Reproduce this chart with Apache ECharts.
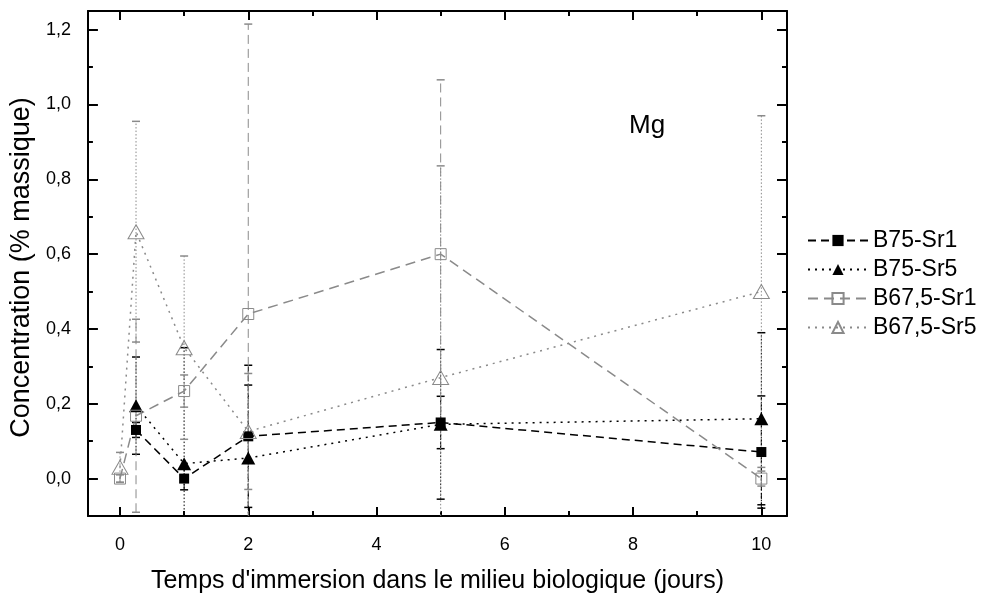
<!DOCTYPE html>
<html><head><meta charset="utf-8">
<script src="https://cdn.jsdelivr.net/npm/echarts@6/dist/echarts.min.js"></script>
<style>html,body{margin:0;padding:0;background:#fff}#c{width:986px;height:599px}</style>
</head><body><div id="c"></div>
<script>
// ---- data ----
const xDays = [0, 0.25, 1, 2, 5, 10];
const seriesNames = ['B75-Sr1', 'B75-Sr5', 'B67,5-Sr1', 'B67,5-Sr5'];
const b75sr1 = [null, 0.13, 0.0, 0.113, 0.15, 0.071];
const b75sr1Err = [null, 0.02, 0.03, 0.19, 0.07, 0.15];
const b75sr5 = [null, 0.195, 0.04, 0.055, 0.145, 0.16];
const b75sr5Err = [null, 0.13, 0.31, 0.195, 0.2, 0.23];
const b675sr1 = [0.0, 0.168, 0.234, 0.44, 0.60, 0.0];
const b675sr1Err = [0.01, 0.258, 0.043, 0.775, 0.466, 0.02];
const b675sr5 = [0.03, 0.66, 0.35, 0.126, 0.27, 0.50];
const b675sr5Err = [0.04, 0.295, 0.245, 0.155, 0.566, 0.47];
const xMajorTicks = [0, 2, 4, 6, 8, 10];
const xMinorTicks = [1, 3, 5, 7, 9];
const yMajorTicks = [0, 0.2, 0.4, 0.6, 0.8, 1.0, 1.2];
const yMinorTicks = [0.1, 0.3, 0.5, 0.7, 0.9, 1.1];

const chart = echarts.init(document.getElementById('c'));
const FONT = '"Liberation Sans", Arial, sans-serif';
const BLACK = '#000', GRAY = '#8a8a8a';

function pairs(vals) {
  const out = [];
  xDays.forEach((x, i) => { if (vals[i] != null) out.push([x, vals[i]]); });
  return out;
}
function errSeries(name, vals, errs, color, dash) {
  const data = [];
  xDays.forEach((x, i) => { if (vals[i] != null) data.push([x, vals[i] - errs[i], vals[i] + errs[i]]); });
  return {
    type: 'custom', name: name + ' err', silent: true, clip: true, z: 1,
    encode: { x: 0, y: [1, 2] }, data,
    renderItem(params, api) {
      const x = api.value(0);
      const lo = api.coord([x, api.value(1)]);
      const hi = api.coord([x, api.value(2)]);
      const w = 4;
      return { type: 'group', children: [
        { type: 'line', shape: { x1: lo[0], y1: lo[1], x2: hi[0], y2: hi[1] }, style: { stroke: color, lineWidth: 1, lineDash: dash } },
        { type: 'line', shape: { x1: hi[0] - w, y1: hi[1], x2: hi[0] + w, y2: hi[1] }, style: { stroke: color, lineWidth: 1.5 } },
        { type: 'line', shape: { x1: lo[0] - w, y1: lo[1], x2: lo[0] + w, y2: lo[1] }, style: { stroke: color, lineWidth: 1.5 } }
      ]};
    }
  };
}
function lineSeries(name, vals, color, dash, symbol, size, filled) {
  return {
    type: 'line', name, data: pairs(vals), z: 3,
    symbol, symbolSize: size, showAllSymbol: true,
    lineStyle: { color, width: 1.5, type: dash },
    itemStyle: filled ? { color, borderColor: color, borderWidth: 0 } : { color: 'rgba(0,0,0,0)', borderColor: color, borderWidth: 1 },
    emphasis: { disabled: true }, animation: false
  };
}
function xAx(pos, ticks, len, showLabel, showLine, name) {
  return {
    type: 'value', min: -0.5, max: 10.4, position: pos, gridIndex: 0,
    name: name || '', nameLocation: 'middle', nameGap: 53,
    nameTextStyle: { fontFamily: FONT, fontSize: 25, color: '#000' },
    splitLine: { show: false },
    axisLine: { show: showLine, onZero: false, lineStyle: { color: '#000', width: 2 } },
    axisTick: { show: true, inside: true, length: len, customValues: ticks, lineStyle: { color: '#000', width: 2 } },
    axisLabel: { show: showLabel, customValues: ticks, margin: 20, fontFamily: FONT, fontSize: 18, color: '#000' }
  };
}
function yAx(pos, ticks, len, showLabel, showLine, name) {
  return {
    type: 'value', min: -0.1, max: 1.25, position: pos, gridIndex: 0,
    name: name || '', nameLocation: 'middle', nameGap: 50,
    nameTextStyle: { fontFamily: FONT, fontSize: 27, color: '#000', padding: [0, 0, 0, -8] },
    splitLine: { show: false },
    axisLine: { show: showLine, onZero: false, lineStyle: { color: '#000', width: 2 } },
    axisTick: { show: true, inside: true, length: len, customValues: ticks, lineStyle: { color: '#000', width: 2 } },
    axisLabel: { show: showLabel, customValues: ticks, margin: 17, fontFamily: FONT, fontSize: 18, color: '#000',
      formatter: v => v.toFixed(1).replace('.', ',') }
  };
}

const option = {
  backgroundColor: '#fff',
  animation: false,
  grid: { left: 87, right: 199, top: 11, bottom: 76, containLabel: false },
  title: { text: 'Mg', left: 624, top: 108, textStyle: { fontFamily: FONT, fontSize: 26, fontWeight: 'normal', color: '#000' } },
  legend: {
    data: seriesNames, orient: 'vertical', left: 802, top: 224,
    itemWidth: 60, itemHeight: 14, itemGap: 6,
    textStyle: { fontFamily: FONT, fontSize: 23, color: '#000' }
  },
  xAxis: [
    xAx('bottom', xMajorTicks, 9, true, true, "Temps d'immersion dans le milieu biologique (jours)"),
    xAx('bottom', xMinorTicks, 5, false, false),
    xAx('top', xMajorTicks, 9, false, true),
    xAx('top', xMinorTicks, 5, false, false)
  ],
  yAxis: [
    yAx('left', yMajorTicks, 10, true, true, 'Concentration (% massique)'),
    yAx('left', yMinorTicks, 5, false, false),
    yAx('right', yMajorTicks, 10, false, true),
    yAx('right', yMinorTicks, 5, false, false)
  ],
  series: [
    errSeries(seriesNames[0], b75sr1, b75sr1Err, BLACK, [6, 3]),
    errSeries(seriesNames[1], b75sr5, b75sr5Err, BLACK, [1.5, 2]),
    errSeries(seriesNames[2], b675sr1, b675sr1Err, GRAY, [9, 5]),
    errSeries(seriesNames[3], b675sr5, b675sr5Err, GRAY, [1.5, 2]),
    lineSeries(seriesNames[0], b75sr1, BLACK, [8, 5], 'rect', 10, true),
    lineSeries(seriesNames[1], b75sr5, BLACK, [2, 5], 'triangle', [14, 13], true),
    lineSeries(seriesNames[2], b675sr1, GRAY, [10, 6], 'rect', 11, false),
    lineSeries(seriesNames[3], b675sr5, GRAY, [2, 5], 'triangle', [16, 14], false)
  ]
};
chart.setOption(option);
</script></body></html>
